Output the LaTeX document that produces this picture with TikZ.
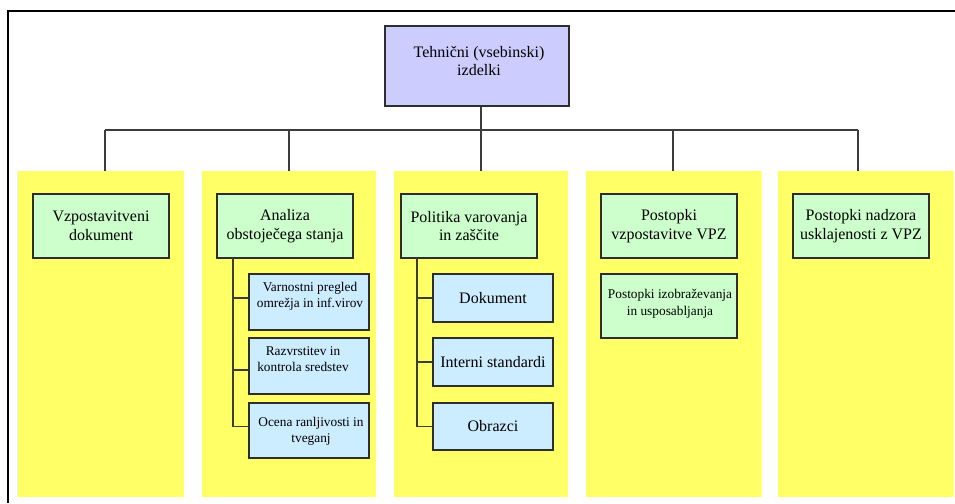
\documentclass[tikz,border=0pt]{standalone}
\usepackage{fontspec}
\setmainfont{Liberation Serif}
\newfontfamily\boxfont{Liberation Serif}
\usetikzlibrary{fit}

\definecolor{panelyellow}{HTML}{FFFF66}
\definecolor{topviolet}{HTML}{CCCCFF}
\definecolor{leafgreen}{HTML}{CCFFCC}
\definecolor{leafblue}{HTML}{CCECFF}
\definecolor{edgegray}{HTML}{2E2E2E}
\definecolor{wiregray}{HTML}{3C3C3C}

\tikzset{
  panel/.style={fill=panelyellow, inner sep=0pt},
  card/.style={draw=edgegray, line width=1.1pt, inner sep=0pt},
  bigtext/.style={align=center, inner sep=0pt, font=\boxfont\fontsize{12}{14}\selectfont},
  smalltext/.style={align=center, inner sep=0pt, font=\boxfont\fontsize{10}{12}\selectfont},
  wire/.style={draw=wiregray, line width=1.1pt},
  frameline/.style={draw=black, line width=1.7pt},
}

\begin{document}
\begin{tikzpicture}[x=0.75pt, y=-0.75pt]
\useasboundingbox (0,0) rectangle (955,503);

% outer frame (left and top edges)
\draw[frameline] (8,503) -- (8,11) -- (955,11);

% root
\node[card, fill=topviolet, fit={(385,26) (569,106)}] (root) {};
\node[bigtext, font=\boxfont\fontsize{12}{13.5}\selectfont] (roottext) at (479,61) {Tehnični (vsebinski)\\izdelki};

% yellow panels
\node[panel, fit={(17,171) (184,497)}] (p1) {};
\node[panel, fit={(202,171) (376,497)}] (p2) {};
\node[panel, fit={(394,171) (568,497)}] (p3) {};
\node[panel, fit={(586,171) (761,497)}] (p4) {};
\node[panel, fit={(778,171) (953,497)}] (p5) {};

% hub line and drop points
\coordinate (hub) at (481,130);
\coordinate (d1) at (105,130);
\coordinate (d2) at (289,130);
\coordinate (d3) at (481,130);
\coordinate (d4) at (673,130);
\coordinate (d5) at (858,130);

\draw[wire] (root.south -| hub) -- (hub);
\draw[wire] (d1) -- (d5);
\draw[wire] (d1) -- (d1 |- p1.north);
\draw[wire] (d2) -- (d2 |- p2.north);
\draw[wire] (d3) -- (d3 |- p3.north);
\draw[wire] (d4) -- (d4 |- p4.north);
\draw[wire] (d5) -- (d5 |- p5.north);

% second-level cards
\node[card, fill=leafgreen, fit={(33,194) (169,258)}] (g1) {};
\node[bigtext] (g1t) at (g1.center) {Vzpostavitveni\\dokument};
\node[card, fill=leafgreen, fit={(217,194) (353,258)}] (g2) {};
\node[bigtext] (g2t) at (g2.center) {Analiza\\obstoječega stanja};
\node[card, fill=leafgreen, fit={(401,194) (537,258)}] (g3) {};
\node[bigtext] (g3t) at (g3.center) {Politika varovanja\\in zaščite};
\node[card, fill=leafgreen, fit={(601,194) (737,258)}] (g4) {};
\node[bigtext] (g4t) at (g4.center) {Postopki\\vzpostavitve VPZ};
\node[card, fill=leafgreen, fit={(793,194) (929,258)}] (g5) {};
\node[bigtext] (g5t) at (g5.center) {Postopki nadzora\\usklajenosti z VPZ};

% children of "Analiza obstoječega stanja"
\node[card, fill=leafblue, fit={(249,274) (369,330)}] (a1) {};
\node[smalltext] (a1t) at (310,296) {Varnostni pregled\\omrežja in inf.virov};
\node[card, fill=leafblue, fit={(249,338) (369,394)}] (a2) {};
\node[smalltext] (a2t) at (303,359.5) {Razvrstitev in\\kontrola sredstev};
\node[card, fill=leafblue, fit={(249,403) (369,458)}] (a3) {};
\node[smalltext] (a3t) at (311,431) {Ocena ranljivosti in\\tveganj};

\coordinate (ta) at (233,258);
\draw[wire] (ta) |- ([yshift=3pt]a1.west);
\draw[wire] (ta) |- ([yshift=-3pt]a2.west);
\draw[wire] (ta) |- ([yshift=3pt]a3.west);

% children of "Politika varovanja in zaščite"
\node[card, fill=leafblue, fit={(433,274) (553,322)}] (b1) {};
\node[bigtext] (b1t) at (b1.center) {Dokument};
\node[card, fill=leafblue, fit={(433,338) (553,386)}] (b2) {};
\node[bigtext] (b2t) at (b2.center) {Interni standardi};
\node[card, fill=leafblue, fit={(433,403) (553,450)}] (b3) {};
\node[bigtext] (b3t) at (b3.center) {Obrazci};

\coordinate (tb) at (417,258);
\draw[wire] (tb) |- (b1.west);
\draw[wire] (tb) |- (b2.west);
\draw[wire] (tb) |- (b3.west);

% child of "Postopki vzpostavitve VPZ"
\node[card, fill=leafgreen, fit={(601,274) (737,338)}] (c1) {};
\node[smalltext, font=\boxfont\fontsize{10}{13}\selectfont] (c1t) at (670,304) {Postopki izobraževanja\\in usposabljanja};
\end{tikzpicture}
\end{document}
